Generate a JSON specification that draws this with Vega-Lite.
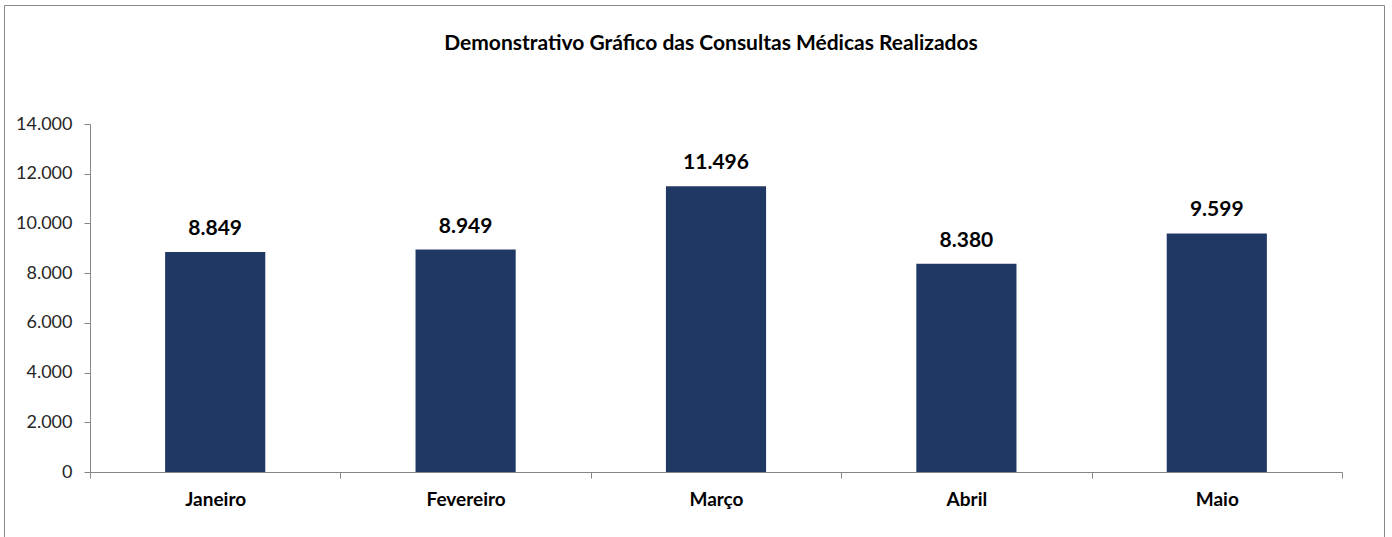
{
  "$schema": "https://vega.github.io/schema/vega-lite/v6.json",
  "width": 1380,
  "height": 540,
  "autosize": {"type": "none"},
  "padding": {"left": 4, "top": 5, "right": 8, "bottom": 0},
  "background": "white",
  "title": {
    "text": "Demonstrativo Gráfico das Consultas Médicas Realizados",
    "font": "Lato",
    "fontSize": 21,
    "fontWeight": "bold",
    "color": "#000000",
    "anchor": "middle",
    "frame": "group",
    "dx": 17,
    "offset": -49
  },
  "config": {
    "view": {"stroke": "#898989", "strokeWidth": 1},
    "locale": {
      "number": {"decimal": ",", "thousands": ".", "grouping": [3], "currency": ["R$", ""]}
    }
  },
  "data": {
    "values": [
      {"mes": "Janeiro", "consultas": 8849},
      {"mes": "Fevereiro", "consultas": 8949},
      {"mes": "Março", "consultas": 11496},
      {"mes": "Abril", "consultas": 8380},
      {"mes": "Maio", "consultas": 9599}
    ]
  },
  "encoding": {
    "x": {
      "field": "mes",
      "type": "nominal",
      "sort": null,
      "scale": {"paddingInner": 0, "paddingOuter": 0, "range": [86, 1338]},
      "axis": {
        "title": null,
        "offset": -73,
        "labelAngle": 0,
        "labelFont": "Lato",
        "labelFontSize": 19,
        "labelFontWeight": "bold",
        "labelColor": "#000000",
        "labelPadding": 12,
        "tickBand": "extent",
        "tickSize": 6,
        "tickColor": "#868686",
        "domainColor": "#868686",
        "grid": false
      }
    },
    "y": {
      "field": "consultas",
      "type": "quantitative",
      "scale": {"domain": [0, 14000], "nice": false, "range": [467, 119]},
      "axis": {
        "title": null,
        "offset": -86,
        "values": [0, 2000, 4000, 6000, 8000, 10000, 12000, 14000],
        "format": ",d",
        "labelFont": "Lato",
        "labelFontSize": 18,
        "labelColor": "#262626",
        "labelPadding": 12,
        "tickSize": 6,
        "tickColor": "#868686",
        "domainColor": "#868686",
        "grid": false
      }
    }
  },
  "layer": [
    {
      "mark": {"type": "bar", "color": "#203864", "width": {"band": 0.4}}
    },
    {
      "mark": {
        "type": "text",
        "font": "Lato",
        "fontSize": 21,
        "fontWeight": "bold",
        "color": "#000000",
        "baseline": "bottom",
        "dy": -13
      },
      "encoding": {
        "text": {"field": "consultas", "type": "quantitative", "format": ",d"}
      }
    }
  ]
}
